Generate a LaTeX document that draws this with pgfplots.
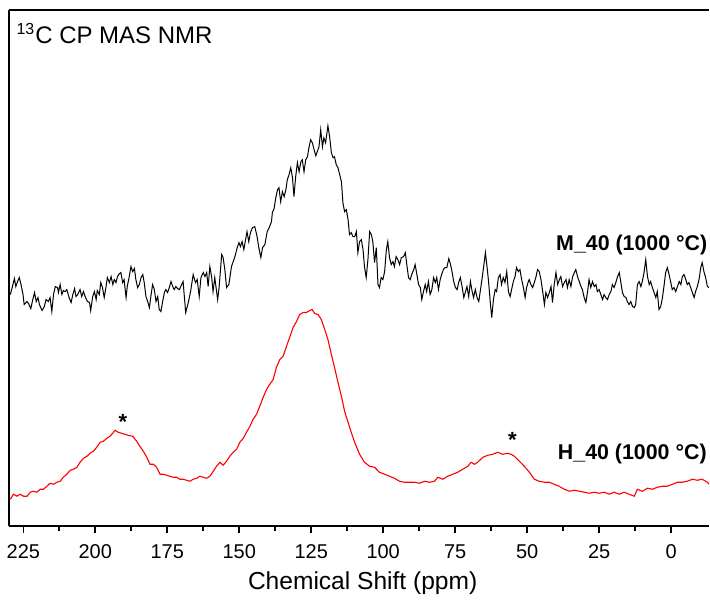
\documentclass[border=0pt]{standalone}
\usepackage{pgfplots}
\pgfplotsset{compat=1.18}
\usepackage{fontspec}
\setmainfont{Liberation Sans}
\begin{document}
\begin{tikzpicture}
\begin{axis}[
  scale only axis,
  width=350.5pt, height=258.5pt,
  x dir=reverse,
  xmin=-13.2, xmax=229.9,
  ymin=0, ymax=517,
  axis x line*=box, axis y line*=left,
  axis line style={-, line width=0.9pt},
  xtick pos=bottom,
  ytick=\empty,
  xtick={0,25,...,225},
  minor x tick num=1,
  tick align=outside,
  major tick length=3.2pt, minor tick length=2.5pt,
  every tick/.style={black, line width=0.8pt},
  /pgf/number format/assume math mode=true,
  xticklabel style={font=\fontsize{10}{12}\selectfont, yshift=-2.5pt},
  xlabel={Chemical Shift (ppm)},
  xlabel style={font=\fontsize{12.3}{14}\selectfont, at={(axis description cs:0.505,-0.122)}, anchor=base},
  clip=true,
]
\addplot[black, line width=0.5pt] coordinates {
(229.5,232)(228.6,242)(228.1,248)(227.6,240)(227.0,245)(226.4,249)(225.8,242)(225.1,232)(224.7,222)(223.7,225)
(223.2,223)(222.4,218)(221.7,227)(221.1,234)(220.5,225)(219.9,229)(219.4,222)(218.5,216)(217.7,220)(217.1,227)
(216.3,225)(215.7,229)(215.1,215)(214.5,232)(213.9,240)(213.1,239)(212.8,234)(212.2,242)(211.6,232)(211.1,236)
(210.5,235)(209.9,237)(209.1,229)(208.4,224)(207.8,232)(207.2,238)(206.7,230)(206.1,232)(205.3,237)(204.7,230)
(204.1,235)(203.4,229)(202.7,225)(202.0,224)(201.6,216)(200.9,230)(200.3,235)(199.7,227)(199.3,236)(198.6,232)
(198.1,244)(197.5,239)(196.9,229)(196.3,239)(195.8,249)(195.1,244)(194.5,250)(193.9,242)(193.4,247)(192.8,244)
(192.3,250)(191.6,253)(191.1,254)(190.5,244)(190.0,247)(189.3,229)(188.9,240)(188.2,250)(187.6,260)(187.0,255)
(186.4,258)(185.9,247)(185.3,239)(184.7,242)(184.1,249)(183.5,252)(183.0,244)(182.4,230)(181.8,225)(181.2,219)
(180.7,230)(180.1,242)(179.5,237)(178.9,225)(178.3,230)(177.8,217)(177.2,215)(176.6,225)(176.0,234)(175.5,237)
(174.9,234)(174.3,239)(173.7,245)(173.1,240)(172.6,237)(172.0,240)(171.4,238)(170.8,237)(170.0,242)(169.5,245)
(168.6,214)(167.7,224)(166.9,235)(166.0,252)(165.2,244)(164.6,247)(163.9,230)(163.3,249)(162.5,254)(161.9,250)
(161.3,254)(160.8,240)(160.2,260)(159.6,250)(159.1,235)(158.5,249)(157.5,227)(157.0,239)(156.1,272)(155.6,269)
(155.0,257)(154.4,239)(153.6,242)(152.7,260)(152.1,265)(151.5,270)(150.7,279)(150.1,284)(149.6,280)(149.0,285)
(148.4,277)(147.8,287)(147.3,295)(146.7,285)(146.1,294)(145.4,299)(144.6,300)(143.8,290)(143.2,279)(142.5,269)
(141.9,279)(141.1,282)(140.3,295)(139.6,299)(138.8,305)(138.5,314)(137.9,318)(137.3,329)(136.7,337)(136.2,339)
(135.6,325)(135.0,335)(134.4,330)(133.8,337)(133.3,347)(132.7,352)(132.1,359)(131.5,349)(131.0,330)(130.4,350)
(129.8,364)(129.2,355)(128.6,365)(128.1,367)(127.5,355)(126.9,367)(126.3,370)(125.8,379)(125.2,387)(124.6,384)
(124.0,377)(123.4,371)(122.9,375)(122.3,380)(121.7,397)(121.1,380)(120.6,389)(120.0,384)(119.2,401)(118.6,390)
(118.0,374)(117.4,369)(116.9,370)(116.3,362)(115.7,359)(115.1,352)(114.5,345)(114.0,324)(113.4,315)(112.8,317)
(112.2,307)(111.7,292)(111.1,294)(110.5,290)(109.9,290)(109.3,295)(108.8,274)(108.2,285)(107.6,287)(107.0,277)
(106.5,260)(105.9,249)(105.3,267)(104.7,295)(104.1,292)(103.6,285)(103.0,264)(102.4,279)(101.8,242)(101.3,239)
(100.7,249)(100.1,247)(99.5,255)(98.9,277)(98.4,285)(97.8,269)(97.2,262)(96.6,265)(96.1,260)(95.5,270)
(94.9,267)(94.3,262)(93.7,269)(92.9,270)(92.3,274)(91.8,262)(91.2,249)(90.6,247)(90.1,252)(89.4,257)
(88.9,262)(88.3,252)(87.7,242)(87.1,239)(86.6,227)(86.0,235)(85.4,242)(84.9,235)(84.3,245)(83.7,232)
(83.1,237)(82.5,249)(81.9,244)(81.4,249)(80.8,237)(80.2,247)(79.7,252)(79.1,257)(78.5,259)(77.9,259)
(77.2,268)(76.6,262)(76.1,255)(75.5,245)(74.9,239)(74.3,237)(73.8,244)(73.2,249)(72.6,240)(72.0,229)
(71.4,235)(70.9,240)(70.3,230)(69.7,245)(69.1,235)(68.6,229)(68.0,237)(67.4,229)(66.8,225)(66.2,237)
(65.7,247)(65.1,260)(64.5,274)(63.9,259)(63.4,245)(62.8,224)(62.3,209)(61.7,227)(61.1,237)(60.6,235)
(60.0,249)(59.4,252)(58.9,242)(58.3,249)(57.7,244)(57.1,255)(56.5,235)(55.9,230)(55.4,237)(54.8,245)
(54.2,250)(53.7,259)(53.1,255)(52.5,257)(51.9,247)(51.3,239)(50.7,229)(50.2,239)(49.6,245)(49.3,247)
(48.7,242)(48.1,239)(47.5,244)(46.9,250)(46.4,257)(45.8,255)(45.2,247)(44.6,235)(44.0,222)(43.5,234)
(42.9,229)(42.3,234)(41.7,240)(41.2,224)(40.6,242)(40.0,254)(39.4,242)(38.8,247)(38.3,250)(37.7,240)
(37.1,244)(36.5,247)(36.0,239)(35.4,247)(34.8,240)(34.2,250)(33.6,254)(33.1,257)(32.5,250)(31.9,245)
(31.3,240)(30.8,237)(30.2,229)(29.6,224)(29.0,235)(28.5,247)(27.9,239)(27.3,245)(26.7,240)(26.1,242)
(25.6,235)(25.0,237)(24.4,232)(23.8,227)(23.3,232)(22.7,229)(22.1,227)(21.5,232)(20.9,235)(20.4,242)
(19.8,239)(19.2,244)(18.6,250)(18.0,254)(17.5,245)(16.9,234)(16.3,230)(15.7,229)(15.2,225)(14.6,222)
(14.0,225)(13.4,220)(12.8,219)(12.3,222)(11.7,242)(11.1,245)(10.5,240)(10.0,245)(9.4,254)(8.8,267)
(8.2,250)(7.6,242)(7.1,245)(6.5,239)(5.9,234)(5.3,229)(4.8,235)(4.2,217)(3.6,220)(3.0,229)
(2.4,242)(1.9,254)(1.3,259)(0.7,252)(0.1,244)(-0.4,237)(-1.0,239)(-1.6,235)(-2.2,240)(-2.8,245)
(-3.4,242)(-3.9,250)(-4.5,252)(-5.1,247)(-5.6,242)(-6.2,244)(-6.8,239)(-7.4,234)(-8.0,229)(-8.5,235)
(-9.1,240)(-9.7,247)(-10.3,259)(-10.8,264)(-11.4,255)(-12.0,249)(-12.6,240)(-13.2,239)
};
\addplot[red, line width=0.55pt] coordinates {
(229.5,27)(228.4,32)(227.2,30)(226.1,32)(224.9,30)(223.7,30)(222.6,34)(221.5,35)(220.3,34)(219.1,37)
(218.0,37)(216.8,40)(215.7,43)(214.5,42)(213.3,44)(212.2,45)(211.1,49)(209.9,52)(208.7,56)(207.6,57)
(206.4,59)(205.3,64)(204.1,68)(202.9,70)(201.8,73)(200.7,75)(199.5,79)(198.3,84)(197.2,85)(196.0,88)
(194.9,90)(193.1,96)(192.0,94)(190.8,93)(189.7,92)(188.5,91)(187.0,90)(185.6,85)(184.5,80)(183.3,75)
(182.1,69)(181.0,62)(179.8,62)(178.7,59)(177.5,52)(176.4,52)(175.2,51)(174.1,50)(172.9,49)(171.7,49)
(170.6,47)(169.4,47)(168.3,46)(167.1,45)(166.0,47)(164.8,48)(163.7,50)(162.5,49)(161.3,48)(160.2,50)
(159.0,55)(157.9,60)(156.7,64)(155.6,61)(154.4,65)(153.3,70)(152.1,74)(150.9,77)(149.8,84)(148.6,88)
(147.5,94)(146.3,100)(145.2,107)(144.0,112)(142.9,120)(141.7,129)(140.5,137)(139.4,142)(138.2,147)(137.1,159)
(135.9,167)(134.8,170)(133.6,180)(132.5,189)(131.3,199)(130.1,205)(129.0,212)(127.8,214)(126.7,214)(125.5,216)
(124.7,217)(123.8,213)(122.6,212)(121.5,207)(120.3,197)(119.2,187)(118.0,172)(116.9,159)(115.7,144)(114.5,130)
(113.4,115)(112.2,104)(111.1,94)(109.9,84)(108.2,72)(106.5,64)(104.7,60)(103.0,59)(101.3,54)(99.5,52)
(97.8,50)(96.1,48)(94.3,45)(92.6,44)(90.9,44)(89.1,44)(87.4,43)(85.7,45)(83.9,44)(82.2,45)
(81.0,49)(79.3,47)(77.6,50)(75.8,52)(74.1,54)(72.4,57)(70.6,60)(69.5,64)(68.3,62)(67.2,64)
(65.4,69)(63.7,71)(62.0,72)(60.2,74)(58.5,72)(56.8,73)(55.6,72)(54.4,70)(52.7,65)(51.0,60)
(49.2,54)(47.5,47)(45.8,45)(44.0,44)(42.3,44)(40.6,42)(38.9,40)(37.1,37)(35.4,35)(33.6,36)
(31.9,35)(30.2,34)(28.4,33)(26.7,34)(25.0,33)(23.2,34)(21.5,32)(19.8,34)(18.0,32)(16.3,34)
(14.6,32)(12.8,30)(11.7,37)(10.0,35)(8.2,38)(6.5,37)(4.8,39)(3.0,40)(1.3,40)(-0.5,42)
(-2.2,44)(-3.9,44)(-5.6,45)(-7.4,47)(-9.1,46)(-10.8,47)(-12.6,44)(-13.2,42)
};
\node[anchor=base west, inner sep=0pt, font=\fontsize{12}{14}\selectfont] at (rel axis cs:0.010,0.936) {\textsuperscript{13}C CP MAS NMR};
\node[anchor=base east, font=\fontsize{10.7}{12}\selectfont\bfseries, inner sep=0pt] at (axis cs:-12.7,276.5) {M\_40 (1000 °C)};
\node[anchor=base east, font=\fontsize{10.7}{12}\selectfont\bfseries, inner sep=0pt] at (axis cs:-12.5,66.5) {H\_40 (1000 °C)};
\node[anchor=base, font=\fontsize{11}{12}\selectfont\bfseries, inner sep=0pt] at (axis cs:190.4,97) {*};
\node[anchor=base, font=\fontsize{11}{12}\selectfont\bfseries, inner sep=0pt] at (axis cs:55.1,79) {*};
\end{axis}
\path (current axis.south west) ++(-4.5pt,-33.5pt);
\path (current axis.north east) ++(0pt,5pt);
\end{tikzpicture}
\end{document}
